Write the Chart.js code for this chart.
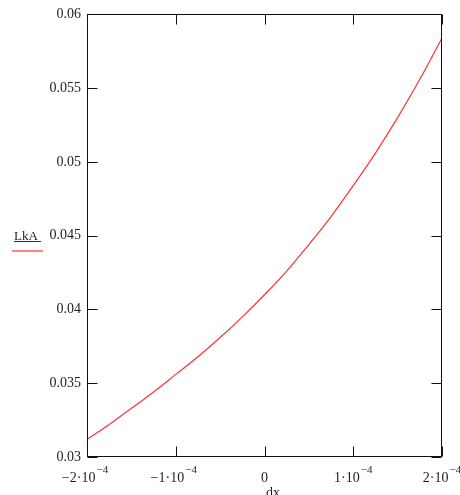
<!DOCTYPE html>
<html>
<head>
<meta charset="utf-8">
<script src="https://cdn.jsdelivr.net/npm/chart.js@4"></script>
<style>
  body { margin: 0; background: #fff; }
  canvas { display: block; }
</style>
</head>
<body>
<canvas id="grafico" width="460" height="495"></canvas>
<script>
// valores (dx en unidades de 1e-4)
const dxValores = [-2, -1.75, -1.5, -1.25, -1, -0.75, -0.5, -0.25, 0, 0.25, 0.5, 0.75, 1, 1.25, 1.5, 1.75, 2];
const lkaValores = [0.0312, 0.0322, 0.0333, 0.0344, 0.0356, 0.0368, 0.0381, 0.0395, 0.0410, 0.0426, 0.0444, 0.0463, 0.0484, 0.0506, 0.0530, 0.0556, 0.0584];

const yEtiquetas = ['0.03', '0.035', '0.04', '0.045', '0.05', '0.055', '0.06'];
const xTicks = [-2e-4, -1e-4, 0, 1e-4, 2e-4];
const xBase = ['\u22122\u00b710', '\u22121\u00b710', '0', '1\u00b710', '2\u00b710'];
const xExp = ['\u22124', '\u22124', '', '\u22124', '\u22124'];

const serif = '"Liberation Serif", "DejaVu Serif", serif';
const tinta = '#1c1c28';

const puntos = dxValores.map((d, i) => ({ x: d * 1e-4, y: lkaValores[i] }));

const marco = {
  id: 'marco',
  afterDraw(chart) {
    const ctx = chart.ctx;
    const a = chart.chartArea;
    const sx = chart.scales.x;
    const sy = chart.scales.y;
    const L = Math.round(a.left) + 0.5, R = Math.round(a.right) - 0.5;
    const T = Math.round(a.top) + 0.5, B = Math.round(a.bottom) - 0.5;
    ctx.save();
    ctx.strokeStyle = '#111';
    ctx.lineWidth = 1;
    ctx.strokeRect(L, T, R - L, B - T);

    // marcas hacia adentro
    ctx.beginPath();
    xTicks.forEach(v => {
      const px = Math.round(sx.getPixelForValue(v)) + 0.5;
      ctx.moveTo(px, B); ctx.lineTo(px, B - 10);
      ctx.moveTo(px, T); ctx.lineTo(px, T + 10);
    });
    yEtiquetas.forEach(t => {
      const py = Math.round(sy.getPixelForValue(parseFloat(t))) + 0.5;
      ctx.moveTo(L, py); ctx.lineTo(L + 10, py);
      ctx.moveTo(R, py); ctx.lineTo(R - 10, py);
    });
    ctx.stroke();

    // etiquetas del eje x con exponente
    ctx.fillStyle = tinta;
    ctx.textBaseline = 'alphabetic';
    ctx.textAlign = 'left';
    xTicks.forEach((v, i) => {
      const px = sx.getPixelForValue(v);
      ctx.font = '14px ' + serif;
      const wb = ctx.measureText(xBase[i]).width;
      ctx.font = '11px ' + serif;
      const we = xExp[i] ? ctx.measureText(xExp[i]).width + 1 : 0;
      const x0 = px - (wb + we) / 2 - (v < 0 ? 2 : 0);
      ctx.font = '14px ' + serif;
      ctx.fillText(xBase[i], x0, 482);
      if (xExp[i]) {
        ctx.font = '11px ' + serif;
        ctx.fillText(xExp[i], x0 + wb + 1, 473);
      }
    });

    // titulo eje x
    ctx.font = '14px ' + serif;
    ctx.textAlign = 'center';
    ctx.fillText('dx', 273, 497);

    // leyenda de la traza
    ctx.textAlign = 'left';
    ctx.font = '13px ' + serif;
    ctx.fillText('LkA', 14, 240);
    ctx.strokeStyle = '#333';
    ctx.beginPath();
    ctx.moveTo(14, 241.5); ctx.lineTo(41, 241.5);
    ctx.stroke();
    ctx.strokeStyle = 'rgb(255,60,60)';
    ctx.lineWidth = 1.3;
    ctx.beginPath();
    ctx.moveTo(12, 251); ctx.lineTo(43, 251);
    ctx.stroke();
    ctx.restore();
  }
};

new Chart(document.getElementById('grafico').getContext('2d'), {
  type: 'line',
  data: {
    datasets: [{
      label: 'LkA',
      data: puntos,
      borderColor: 'rgb(255,50,50)',
      borderWidth: 1.2,
      pointRadius: 0,
      tension: 0.4,
      fill: false
    }]
  },
  options: {
    responsive: false,
    animation: false,
    layout: { padding: { left: 0, right: 18, top: 13, bottom: 0 } },
    plugins: { legend: { display: false }, tooltip: { enabled: false } },
    scales: {
      x: {
        type: 'linear',
        min: -2e-4,
        max: 2e-4,
        grid: { display: false },
        border: { display: false },
        ticks: { display: false },
        afterFit(s) { s.height = 38; }
      },
      y: {
        min: 0.03,
        max: 0.06,
        grid: { display: false, drawTicks: false },
        border: { display: false },
        ticks: {
          stepSize: 0.005,
          padding: 6,
          color: tinta,
          font: { family: serif, size: 14 },
          callback: (v, i) => yEtiquetas[i]
        },
        afterFit(s) { s.width = 87; }
      }
    }
  },
  plugins: [marco]
});
</script>
</body>
</html>
